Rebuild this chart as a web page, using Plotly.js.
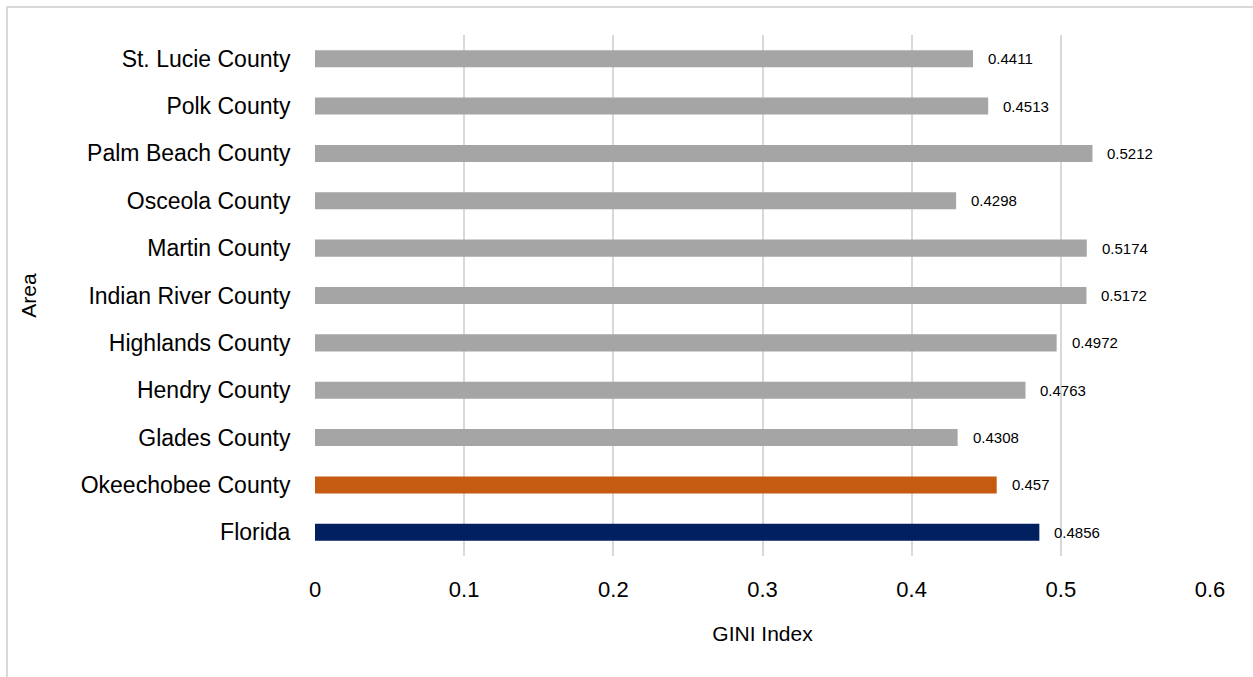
<!DOCTYPE html>
<html>
<head>
<meta charset="utf-8">
<script src="https://cdn.plot.ly/plotly-3.0.1.min.js"></script>
<style>
  html, body { margin: 0; padding: 0; background: #fff; overflow: hidden; }
  #chart { width: 1253px; height: 677px; position: absolute; left: 0; top: 0; }
  #frame { position: absolute; left: 6px; top: 6px; width: 1400px; height: 800px;
           border-left: 2px solid #d9d9d9; border-top: 2px solid #d9d9d9; pointer-events: none; }
</style>
</head>
<body>
<div id="chart"></div>
<div id="frame"></div>
<script>
const categories = ["Florida", "Okeechobee County", "Glades County", "Hendry County", "Highlands County",
  "Indian River County", "Martin County", "Osceola County", "Palm Beach County", "Polk County", "St. Lucie County"];
const giniValues = [0.4856, 0.457, 0.4308, 0.4763, 0.4972, 0.5172, 0.5174, 0.4298, 0.5212, 0.4513, 0.4411];
const valueLabels = ["0.4856", "0.457", "0.4308", "0.4763", "0.4972", "0.5172", "0.5174", "0.4298", "0.5212", "0.4513", "0.4411"];
const barColors = ["#002060", "#c55a11", "#a5a5a5", "#a5a5a5", "#a5a5a5", "#a5a5a5", "#a5a5a5", "#a5a5a5", "#a5a5a5", "#a5a5a5", "#a5a5a5"];
const xTickValues = [0, 0.1, 0.2, 0.3, 0.4, 0.5, 0.6];
const xTickLabels = ["0", "0.1", "0.2", "0.3", "0.4", "0.5", "0.6"];

const FONT = "'Liberation Sans', Arial, sans-serif";

const trace = {
  type: "bar",
  orientation: "h",
  x: giniValues,
  y: categories,
  marker: { color: barColors },
  hoverinfo: "x+y"
};

const annotations = categories.map((c, i) => ({
  x: giniValues[i], y: c, xref: "x", yref: "y",
  text: valueLabels[i], showarrow: false,
  xanchor: "left", yanchor: "middle", xshift: 13,
  font: { family: FONT, size: 15, color: "#000" }
}));

const layout = {
  width: 1253, height: 677,
  margin: { l: 315, r: 43, t: 35, b: 121 },
  paper_bgcolor: "#ffffff", plot_bgcolor: "#ffffff",
  bargap: 0.64,
  showlegend: false,
  font: { family: FONT, color: "#000" },
  xaxis: {
    range: [0, 0.6],
    tickvals: xTickValues, ticktext: xTickLabels,
    showgrid: true, gridcolor: "#d9d9d9", gridwidth: 2,
    zeroline: false, showline: false,
    ticks: "outside", ticklen: 14, tickcolor: "rgba(0,0,0,0)",
    tickfont: { family: FONT, size: 22, color: "#000" },
    title: { text: "GINI Index", font: { family: FONT, size: 21, color: "#000" }, standoff: 24 }
  },
  yaxis: {
    type: "category",
    categoryorder: "array", categoryarray: categories,
    showgrid: false, zeroline: false, showline: false,
    ticks: "outside", ticklen: 19, tickcolor: "rgba(0,0,0,0)",
    tickfont: { family: FONT, size: 23, color: "#000" },
    title: { text: "Area", font: { family: FONT, size: 21, color: "#000" }, standoff: 38 }
  },
  annotations: annotations
};

Plotly.newPlot("chart", [trace], layout, { displayModeBar: false, staticPlot: true });
</script>
</body>
</html>
